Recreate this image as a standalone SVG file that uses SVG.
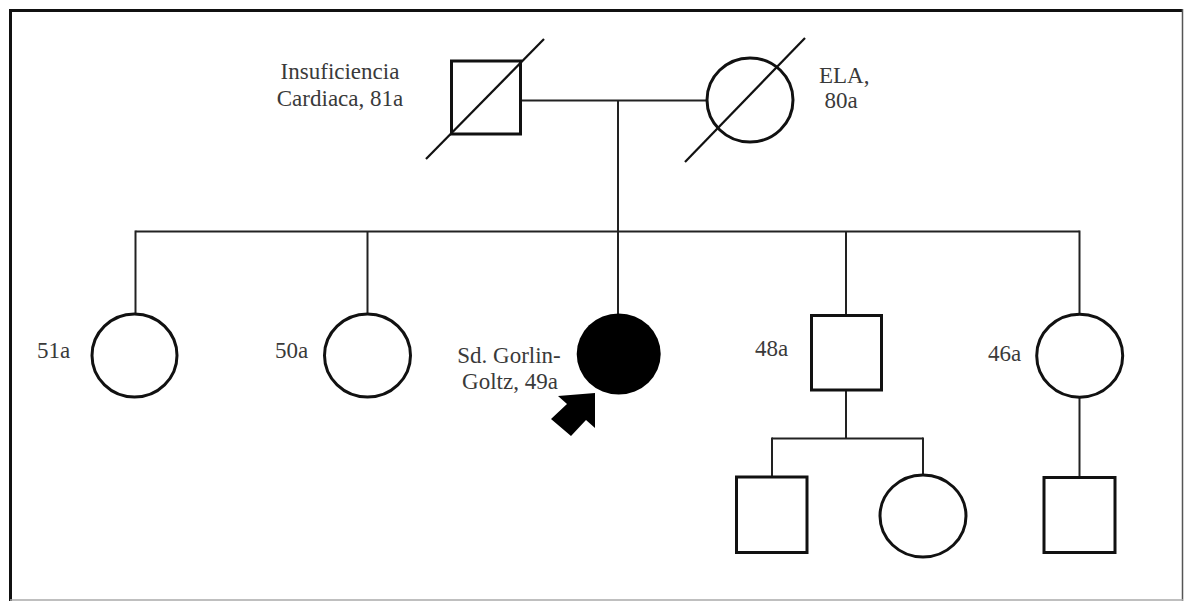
<svg xmlns="http://www.w3.org/2000/svg" width="1184" height="601" viewBox="0 0 1184 601">
<style>
.sh{fill:#fff;stroke:#111;stroke-width:3}
.ln{fill:none;stroke:#222;stroke-width:2}
.sl{fill:none;stroke:#111;stroke-width:2.2}
.t{font-family:'Liberation Serif','Tinos','Times New Roman','DejaVu Serif',serif;font-size:23px;fill:#3a3a3a}
</style>
<rect width="1184" height="601" fill="#fff"/>
<g id="frame">
<line x1="10" y1="10.5" x2="1183" y2="10.5" stroke="#111" stroke-width="3"/>
<line x1="10.5" y1="9" x2="10.5" y2="601" stroke="#111" stroke-width="3"/>
<line x1="1182.5" y1="9" x2="1182.5" y2="601" stroke="#555" stroke-width="1.5"/>
<line x1="10" y1="600" x2="1183" y2="600" stroke="#aaa" stroke-width="1.5"/>
</g>
<g id="connectors">
<line class="ln" x1="521" y1="100.5" x2="707" y2="100.5"/>
<line class="ln" x1="618" y1="100.5" x2="618" y2="314"/>
<line class="ln" x1="135.5" y1="231.5" x2="1079.5" y2="231.5"/>
<line class="ln" x1="135.5" y1="230.5" x2="135.5" y2="314"/>
<line class="ln" x1="367.5" y1="231.5" x2="367.5" y2="314"/>
<line class="ln" x1="846" y1="231.5" x2="846" y2="315"/>
<line class="ln" x1="1079.5" y1="230.5" x2="1079.5" y2="314"/>
<line class="ln" x1="846" y1="390" x2="846" y2="438.5"/>
<line class="ln" x1="772" y1="438.5" x2="923" y2="438.5"/>
<line class="ln" x1="772" y1="437.5" x2="772" y2="477"/>
<line class="ln" x1="923" y1="437.5" x2="923" y2="475"/>
<line class="ln" x1="1079.5" y1="397" x2="1079.5" y2="477"/>
</g>
<g id="father">
<rect class="sh" x="451.5" y="61" width="69" height="73"/>
<line class="sl" x1="426" y1="159" x2="544" y2="39"/>
<text class="t" font-family="Liberation Serif, serif" x="340" y="79" text-anchor="middle">Insuficiencia</text>
<text class="t" font-family="Liberation Serif, serif" x="340" y="106" text-anchor="middle">Cardiaca, 81a</text>
</g>
<g id="mother">
<ellipse class="sh" cx="750" cy="100" rx="43" ry="42"/>
<line class="sl" x1="685" y1="162" x2="805" y2="38"/>
<text class="t" font-family="Liberation Serif, serif" x="819" y="83">ELA,</text>
<text class="t" font-family="Liberation Serif, serif" x="841" y="108" text-anchor="middle">80a</text>
</g>
<g id="sib51">
<ellipse class="sh" cx="134.5" cy="355.5" rx="42.5" ry="41.5"/>
<text class="t" font-family="Liberation Serif, serif" x="37" y="358">51a</text>
</g>
<g id="sib50">
<ellipse class="sh" cx="367.5" cy="355.5" rx="43" ry="41.5"/>
<text class="t" font-family="Liberation Serif, serif" x="275" y="358">50a</text>
</g>
<g id="proband">
<ellipse cx="618.7" cy="354" rx="42" ry="40.5" fill="#000"/>
<text class="t" font-family="Liberation Serif, serif" x="509" y="363" text-anchor="middle">Sd. Gorlin-</text>
<text class="t" font-family="Liberation Serif, serif" x="510" y="389" text-anchor="middle">Goltz, 49a</text>
<polygon points="595,393 595,428 586,420 571,436 551,419 567,404 558,396" fill="#000"/>
</g>
<g id="sib48">
<rect class="sh" x="811.5" y="315.5" width="70" height="74.5"/>
<text class="t" font-family="Liberation Serif, serif" x="755" y="356">48a</text>
</g>
<g id="sib46">
<ellipse class="sh" cx="1079.7" cy="355.7" rx="43" ry="41.5"/>
<text class="t" font-family="Liberation Serif, serif" x="988" y="361">46a</text>
</g>
<g id="child48a">
<rect class="sh" x="736.5" y="477" width="70.5" height="75.5"/>
</g>
<g id="child48b">
<ellipse class="sh" cx="923" cy="516" rx="43" ry="41"/>
</g>
<g id="child46">
<rect class="sh" x="1044" y="477.5" width="71" height="75"/>
</g>
</svg>
